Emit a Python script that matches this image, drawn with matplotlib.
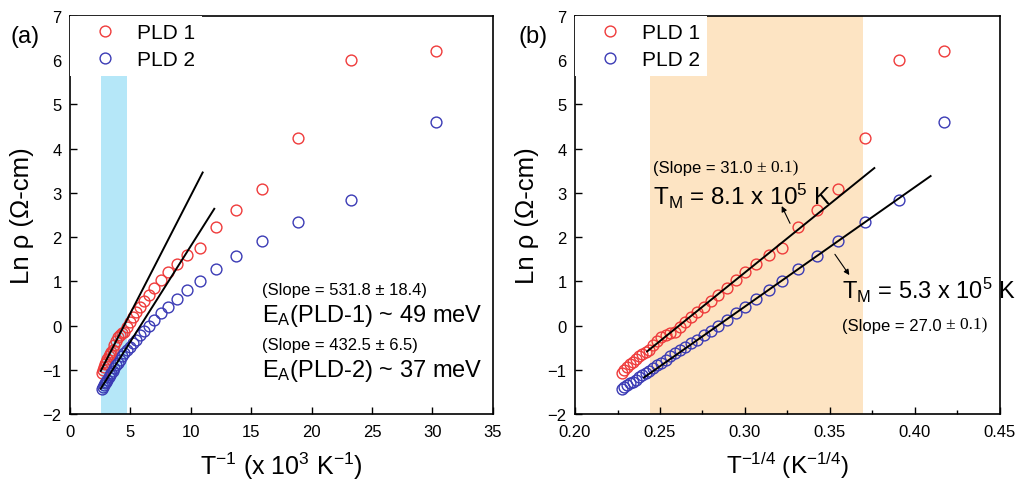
import numpy as np
import matplotlib
matplotlib.use("Agg")
import matplotlib.pyplot as plt
from matplotlib.lines import Line2D
from matplotlib.ticker import MultipleLocator, FormatStrFormatter

plt.rcParams['font.family'] = ['Liberation Sans', 'DejaVu Sans']
plt.rcParams['mathtext.fontset'] = 'custom'
plt.rcParams['mathtext.rm'] = 'Liberation Sans'
plt.rcParams['mathtext.it'] = 'Liberation Sans:italic'
plt.rcParams['mathtext.bf'] = 'Liberation Sans:bold'

# Measurement temperatures (K)
temperature = [373, 363, 353, 343, 333, 323, 313, 303, 293, 283, 273, 263,
               253, 243, 233, 223, 213, 203, 193, 183, 173, 163, 153, 143,
               133, 123, 113, 103, 93, 83, 73, 63, 53, 43, 33]

# ln(resistivity) for the two films
ln_rho_pld1 = [-1.08, -1.00, -0.94, -0.88, -0.82, -0.76, -0.70, -0.64, -0.60,
               -0.55, -0.45, -0.36, -0.27, -0.22, -0.17, -0.14, -0.03, 0.09,
               0.20, 0.31, 0.42, 0.56, 0.70, 0.85, 1.02, 1.20, 1.40, 1.59,
               1.75, 2.23, 2.62, 3.08, 4.24, 6.00, 6.20]
ln_rho_pld2 = [-1.43, -1.39, -1.35, -1.31, -1.27, -1.22, -1.17, -1.12, -1.07,
               -1.02, -0.96, -0.90, -0.84, -0.77, -0.69, -0.62, -0.56, -0.49,
               -0.40, -0.32, -0.22, -0.12, -0.01, 0.12, 0.28, 0.43, 0.61, 0.80,
               1.01, 1.27, 1.57, 1.91, 2.33, 2.84, 4.59]

series_labels = ["PLD 1", "PLD 2"]

# Arrhenius fits (slope in K, x in 10^3 K^-1)
arr_slope = [531.8, 432.5]
arr_intercept = [-2.38, -2.526]
arr_xrange = [(2.54, 10.98), (2.54, 11.94)]

# Mott VRH fits (slope in K^1/4)
vrh_slope = [31.0, 27.0]
vrh_intercept = [-8.10, -7.67]
vrh_xrange = [(0.2424, 0.3761), (0.2406, 0.4092)]

# Fitted windows
arr_window = (2.54, 4.69)
vrh_window = (0.2441, 0.3696)

T = np.array(temperature, dtype=float)
x_arr = 1000.0 / T
x_vrh = T ** -0.25

red = '#ef3b3b'
blue = '#3b3bb5'
colors = [red, blue]
ys = [ln_rho_pld1, ln_rho_pld2]

fig = plt.figure(figsize=(10.19, 4.85), dpi=100)
ax_a = fig.add_axes([0.0687, 0.1443, 0.415, 0.821])
ax_b = fig.add_axes([0.5643, 0.1443, 0.417, 0.821])

mk = dict(linestyle='none', marker='o', markersize=7.8, markerfacecolor='none',
          markeredgewidth=1.0, zorder=3)

for ax in (ax_a, ax_b):
    ax.set_ylim(-2, 7)
    ax.yaxis.set_major_locator(MultipleLocator(1))
    ax.tick_params(direction='in', length=5, width=1.0, labelsize=12,
                   top=False, right=False, pad=6)
    ax.tick_params(axis='x', pad=7)
    for s in ax.spines.values():
        s.set_linewidth(1.2)
    ax.set_ylabel(u"Ln \u03c1 (\u03a9-cm)", fontsize=18.5)
    ax.yaxis.set_label_coords(-0.085, 0.5)

# ---- (a) Arrhenius plot ----
ax_a.axvspan(*arr_window, color='#b5e7f8', lw=0, zorder=0)
for y, c in zip(ys, colors):
    ax_a.plot(x_arr, y, color=c, **mk)
for s, b, (x0, x1) in zip(arr_slope, arr_intercept, arr_xrange):
    xx = np.array([x0, x1])
    ax_a.plot(xx, s / 1000.0 * xx + b, color='black', lw=1.4, zorder=4)
ax_a.set_xlim(0, 35)
ax_a.xaxis.set_major_locator(MultipleLocator(5))
ax_a.set_xlabel(r"T$^{-1}$ (x 10$^{3}$ K$^{-1}$)", fontsize=18)
ax_a.xaxis.set_label_coords(0.5, -0.09)

ax_a.text(15.9, 0.82, u"(Slope = 531.8 \u00b1 18.4)", fontsize=12, va='center')
ax_a.text(15.85, 0.24, r"E$_{\mathrm{A}}$(PLD-1) ~ 49 meV", fontsize=17, va='center')
ax_a.text(15.9, -0.44, u"(Slope = 432.5 \u00b1 6.5)", fontsize=12, va='center')
ax_a.text(15.85, -1.0, r"E$_{\mathrm{A}}$(PLD-2) ~ 37 meV", fontsize=17, va='center')

# ---- (b) Mott VRH plot ----
ax_b.axvspan(*vrh_window, color='#fde4c3', lw=0, zorder=0)
for y, c in zip(ys, colors):
    ax_b.plot(x_vrh, y, color=c, **mk)
for s, b, (x0, x1) in zip(vrh_slope, vrh_intercept, vrh_xrange):
    xx = np.array([x0, x1])
    ax_b.plot(xx, s * xx + b, color='black', lw=1.4, zorder=4)
ax_b.set_xlim(0.20, 0.45)
ax_b.xaxis.set_major_locator(MultipleLocator(0.05))
ax_b.xaxis.set_minor_locator(MultipleLocator(0.025))
ax_b.xaxis.set_major_formatter(FormatStrFormatter('%.2f'))
ax_b.tick_params(axis='x', which='minor', direction='in', length=3, width=1.0,
                 top=False)
ax_b.set_xlabel(r"T$^{-1/4}$ (K$^{-1/4}$)", fontsize=17.5)
ax_b.xaxis.set_label_coords(0.5, -0.09)


def slope_note(ax, x, y, value, err):
    t1 = ax.text(x, y, "(Slope = %s " % value, fontsize=12, va='center')
    ax.annotate(u"\u00b1 %s)" % err, xy=(1, 0), xycoords=t1, va='bottom',
                ha='left', fontsize=12.5, family='Liberation Serif')


slope_note(ax_b, 0.2459, 3.57, "31.0", "0.1")
ax_b.text(0.2459, 2.93, r"T$_{\mathrm{M}}$ = 8.1 x 10$^{5}$ K", fontsize=17.5, va='center')
ax_b.text(0.3569, 0.82, r"T$_{\mathrm{M}}$ = 5.3 x 10$^{5}$ K", fontsize=17, va='center')
slope_note(ax_b, 0.3569, 0.01, "27.0", "0.1")

arrow = dict(arrowstyle='-|>', lw=0.8, color='black', mutation_scale=8,
             shrinkA=0, shrinkB=0)
ax_b.annotate("", xy=(0.3216, 2.70), xytext=(0.3265, 2.31), arrowprops=arrow)
ax_b.annotate("", xy=(0.3614, 1.14), xytext=(0.3529, 1.61), arrowprops=arrow)

# Legends and panel tags
for ax in (ax_a, ax_b):
    handles = [Line2D([], [], color=c, **mk) for c in colors]
    leg = ax.legend(handles, series_labels, loc='upper left', fontsize=15,
                    frameon=True, borderaxespad=0, borderpad=0.35,
                    handlelength=2.65, handletextpad=0.2, labelspacing=0.38,
                    numpoints=1, fancybox=False)
    leg.get_frame().set_facecolor('white')
    leg.get_frame().set_edgecolor('none')
    leg.get_frame().set_alpha(1.0)
    leg.set_zorder(5)

fig.text(25 / 1019, 1 - 37 / 485, "(a)", fontsize=17, ha='center', va='center')
fig.text(533 / 1019, 1 - 37 / 485, "(b)", fontsize=17, ha='center', va='center')

fig.savefig("out.png", dpi=100)
